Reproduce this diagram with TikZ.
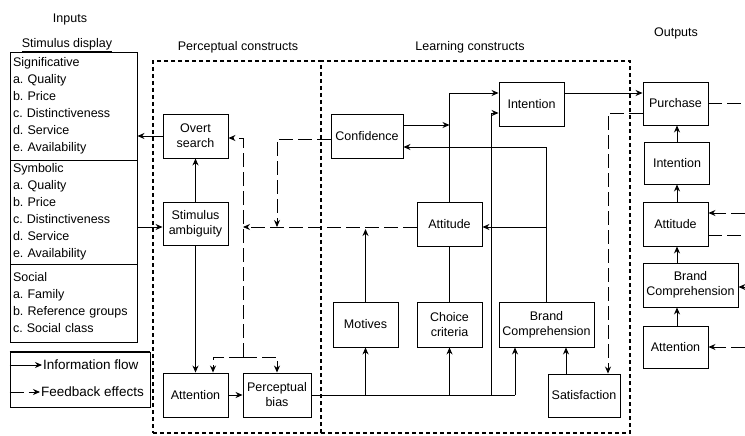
\documentclass[tikz,border=0pt]{standalone}
\usepackage{fontspec}
\setmainfont{Liberation Sans}
\usetikzlibrary{arrows.meta,positioning,calc}

\begin{document}
\frenchspacing
\begin{tikzpicture}[
    x=1pt, y=-1pt,
    font=\fontsize{12.5}{15}\selectfont,
    box/.style={draw, line width=0.9pt, align=center, inner sep=1pt, minimum width=65pt, minimum height=44pt},
    inbox/.style={draw, line width=0.9pt, align=left, text width=121pt, inner sep=3pt, minimum width=127pt, font=\fontsize{12.5}{17}\selectfont},
    region/.style={draw, dash pattern=on 4pt off 3pt, line width=1.2pt, inner sep=0pt},
    flow/.style={-{Stealth[length=7pt, width=6pt]}, line width=0.9pt},
    fb/.style={-{Stealth[length=7pt, width=6pt]}, line width=0.9pt, dash pattern=on 14pt off 5pt},
    link/.style={line width=0.9pt},
    fbline/.style={line width=0.9pt, dash pattern=on 14pt off 5pt}
]
    \useasboundingbox (0,0) rectangle (745,436);

    % Headings
    \node (inputs) at (70,19) {Inputs};
    \node (display) at (67,45) {\underline{Stimulus display}};
    \node (perctitle) at (238,47) {Perceptual constructs};
    \node (learntitle) at (470,47) {Learning constructs};
    \node (outtitle) at (676,33) {Outputs};

    % Construct regions
    \node[region, minimum width=168pt, minimum height=372pt] (perc) at (237,247) {};
    \node[region, minimum width=309pt, minimum height=372pt] (learn) at (475.5,247) {};

    % Stimulus display
    \node[inbox, minimum height=108pt] (sig) at (73.5,106) {Significative\\a. Quality\\b. Price\\c. Distinctiveness\\d. Service\\e. Availability};
    \node[inbox, minimum height=104pt] (sym) at (73.5,212) {Symbolic\\a. Quality\\b. Price\\c. Distinctiveness\\d. Service\\e. Availability};
    \node[inbox, minimum height=78pt] (soc) at (73.5,303) {Social\\a. Family\\b. Reference groups\\c. Social class};

    % Legend
    \node[draw, line width=0.9pt, minimum width=140pt, minimum height=55pt] (legend) at (80,379.5) {};
    \draw[line width=2pt] (legend.north west) -- (legend.north east);
    \node[anchor=west, inner sep=1pt, font=\fontsize{13.5}{15}\selectfont] (infotxt) at (42,365) {Information flow};
    \node[anchor=west, inner sep=1pt, font=\fontsize{13.5}{15}\selectfont] (fbtxt) at (40,392) {Feedback effects};
    \draw[flow] (legend.west |- infotxt.west) -- (infotxt.west);
    \draw[fb] (legend.west |- fbtxt.west) -- (fbtxt.west);

    % Perceptual constructs
    \node[box] (overt) at (195.5,136) {Overt\\search};
    \node[box, minimum height=43pt] (ambig) at (195.5,224) {Stimulus\\ambiguity};
    \node[box] (attnP) at (195.5,395) {Attention};
    \node[box, minimum width=68pt] (bias) at (277,395) {Perceptual\\bias};

    % Learning constructs
    \node[box, minimum width=72pt] (conf) at (367,136) {Confidence};
    \node[box] (intL) at (531.5,104) {Intention};
    \node[box] (attL) at (449.5,224) {Attitude};
    \node[box, minimum height=45pt] (motives) at (365.5,324.5) {Motives};
    \node[box, minimum height=45pt] (choice) at (449.5,324.5) {Choice\\criteria};
    \node[box, minimum width=95pt, minimum height=45pt] (brandL) at (546.5,324.5) {Brand\\Comprehension};
    \node[box, minimum width=72pt, minimum height=43pt] (satis) at (584,395.5) {Satisfaction};

    % Outputs
    \node[box, minimum height=43pt] (purchase) at (675.5,103.5) {Purchase};
    \node[box, minimum height=42pt] (intO) at (677,163) {Intention};
    \node[box] (attO) at (675.5,224) {Attitude};
    \node[box, minimum width=95pt] (brandO) at (690.5,285) {Brand\\Comprehension};
    \node[box, minimum height=42pt] (attnO) at (675.5,347) {Attention};

    % Junctions
    \coordinate (biasend) at (515,395);
    \coordinate (intfeed) at (491,395);
    \coordinate (fbtop) at (243,357);
    \coordinate (rim) at (745,0);

    % Information flow
    \draw[flow] (overt.west) -- (overt.west -| sig.east);
    \draw[flow] (sym.east |- 0,227) -- (ambig.west |- 0,227);
    \draw[flow] (ambig.north) -- (overt.south);
    \draw[flow] (ambig.south) -- (attnP.north);
    \draw[flow] (attnP.east) -- (bias.west);
    \draw[link] (bias.east) -- (biasend);
    \draw[flow] (motives.south |- bias.east) -- (motives.south);
    \draw[flow] (choice.south |- bias.east) -- (choice.south);
    \draw[flow] (biasend) -- (biasend |- brandL.south);
    \draw[flow] (intfeed) |- (intL.west |- 0,113);
    \draw[link] (choice.north) -- (attL.south);
    \draw[flow] (attL.north) |- (intL.west |- 0,93);
    \draw[flow] (conf.east |- 0,125) -- (attL.north |- 0,125);
    \draw[flow] (brandL.north) |- (conf.east |- 0,147);
    \draw[flow] (brandL.north |- 0,227) -- (attL.east |- 0,227);
    \draw[flow] (intL.east |- 0,93) -- (purchase.west |- 0,93);
    \draw[flow] (satis.north -| 566,0) -- (brandL.south -| 566,0);
    \draw[flow] (motives.north) -- (motives.north |- 0,229);

    \draw[flow] (attnO.north -| 677,0) -- (brandO.south -| 677,0);
    \draw[flow] (brandO.north -| 677,0) -- (attO.south -| 677,0);
    \draw[flow] (attO.north -| 677,0) -- (intO.south -| 677,0);
    \draw[flow] (intO.north -| 677,0) -- (purchase.south -| 677,0);

    % Feedback effects
    \draw[fb] (fbtop) |- (overt.east |- 0,138);
    \draw[fb] (fbtop) -| (attnP.north -| 213,0);
    \draw[fb] (fbtop) -| (bias.north);
    \draw[fb] (attL.west |- 0,227) -- (fbtop |- 0,227);
    \draw[fb] (conf.west |- 0,139) -| (bias.north |- 0,227);
    \draw[fb] (purchase.west |- 0,113) -| (satis.north -| 608,0);

    % Links to the rest of the model
    \draw[fbline] (purchase.east) -- (rim |- purchase.east);
    \draw[fb] (rim |- 0,213) -- (attO.east |- 0,213);
    \draw[fbline] (attO.east |- 0,235) -- (rim |- 0,235);
    \draw[fb] (rim |- 0,287) -- (brandO.east |- 0,287);
    \draw[fb] (rim |- 0,347) -- (attnO.east |- 0,347);
\end{tikzpicture}
\end{document}
